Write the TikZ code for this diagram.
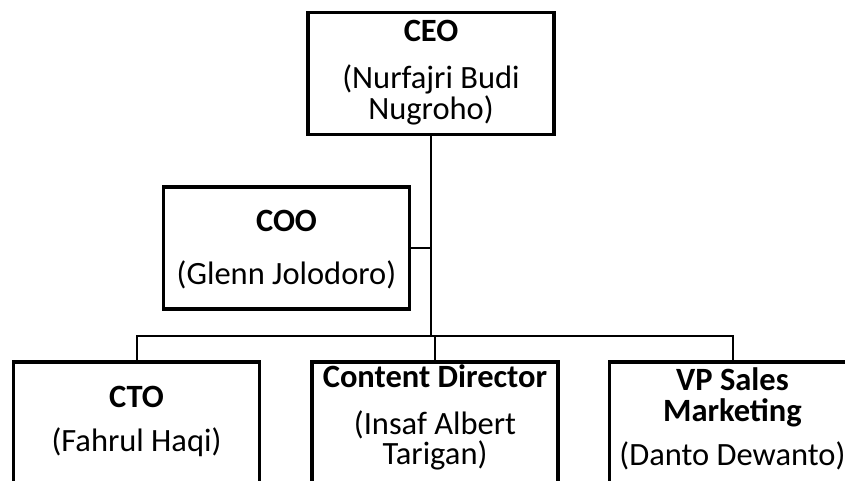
\documentclass[tikz,border=0pt]{standalone}
\usepackage{fontspec}
\setmainfont{Carlito}
% one text line of fixed height and depth
\newcommand{\tline}[2][22pt]{\raisebox{0pt}[#1][8pt]{#2}}
\newcommand{\bline}[2][8pt]{\raisebox{0pt}[22pt][#1]{#2}}
\tikzset{
  post/.style={draw,line width=3.3pt,minimum width=246pt,minimum height=122pt,
    inner sep=0pt,align=center,font=\fontsize{32.5}{30}\selectfont},
  link/.style={line width=2pt}
}
\begin{document}
\begin{tikzpicture}[x=1pt,y=1pt]
\path[use as bounding box,clip] (0,0) rectangle (845,481);
% boxes
\node[post] (ceo) at (431,407.5) {\tline{\textbf{CEO}}\\[17pt]\tline{(Nurfajri Budi}\\[1pt]\tline{Nugroho)}};
\node[post] (coo) at (286.5,233) {\tline[29pt]{\textbf{COO}}\\[23pt]\tline{(Glenn Jolodoro)}};
\node[post] (cto) at (136.5,58) {\tline{\textbf{CTO}}\\[14pt]\tline{(Fahrul Haqi)}};
\node[post] (cd) at (435,58) {\tline{\textbf{Content Director}}\\[17pt]\tline{(Insaf Albert}\\\bline[15pt]{Tarigan)}};
\node[post] (vp) at (732.5,58) {\tline{\textbf{VP Sales}}\\[1pt]\tline{\textbf{Marketing}}\\[14pt]\bline[12pt]{(Danto Dewanto)}};
% lines
\coordinate (bus) at (431,145);
\draw[link] (ceo.south) -- (ceo.south |- bus);
\draw[link] (coo.east) -- (coo.east -| ceo.south);
\draw[link] (cto.north) |- (bus) -| (vp.north);
\draw[link] (cd.north) -- (cd.north |- bus);
\end{tikzpicture}
\end{document}
